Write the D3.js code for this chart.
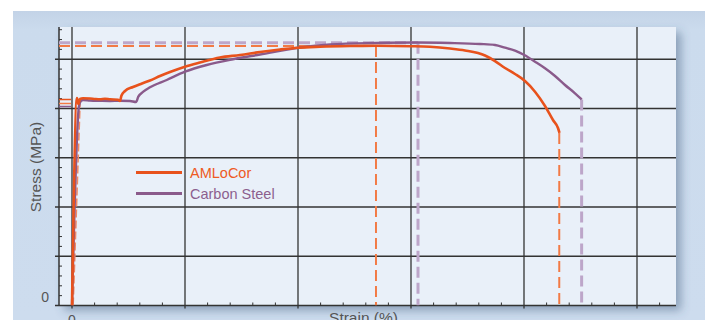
<!DOCTYPE html>
<html><head><meta charset="utf-8">
<script src="https://cdn.jsdelivr.net/npm/d3@7/dist/d3.min.js"></script>
<style>html,body{margin:0;padding:0;background:#fff;}svg{display:block;}</style>
</head><body>
<script>
// ---- data (strain %, stress MPa) ----
const seriesNames = ["AMLoCor", "Carbon Steel"];
const amlocorStrain = [0,0.221,0.279,0.354,0.487,0.796,1.018,1.239,1.46,1.681,2.035,2.124,2.19,2.345,2.699,3.097,3.451,3.894,4.336,5.0,5.664,6.549,7.434,8.319,9.204,10.0,10.973,12.301,13.451,15.0,15.841,16.726,17.389,18.274,18.717,19.159,19.602,20.044,20.487,20.929,21.283,21.504,21.571];
const amlocorStress = [0,421.3,409.1,419.3,420.7,420.3,419.3,418.7,419.8,418.7,417.9,415.2,426.4,435.5,443.7,450.8,456.9,466.0,474.1,484.9,493.4,503.6,508.6,514.7,519.8,523.5,525.5,526.9,527.3,526.5,525.3,521.8,517.8,507.6,496.4,482.2,470.1,455.8,434.1,405.1,376.6,360.4,350.3];
const steelStrain = [0,0.31,0.398,0.487,0.796,1.239,1.681,2.124,2.566,2.832,2.934,3.155,3.451,4.19,5.0,5.96,7.124,8.319,10.088,11.416,13.451,15.31,16.726,18.053,18.717,19.159,19.602,20.013,20.487,20.929,21.372,21.814,22.257,22.553];
const steelStress = [0,405.1,415.2,417.3,416.2,415.6,415.2,415.6,415.2,413.2,424.0,434.1,443.0,457.9,474.7,488.3,499.9,509.6,523.9,530.0,533.0,534.0,533.0,531.0,528.9,523.5,517.4,508.6,495.0,481.6,466.0,447.7,430.9,418.3];
// ultimate tensile points and fracture strains
const utsStrain = [13.45, 15.31];
const utsStress = [527, 533.6];
const fractureStrain = [21.56, 22.55];
const fractureStress = [350.3, 418.3];
// yield markers on the stress axis
const yieldStress = [418.3, 410.2, 404.1];
// offset (elastic) construction line
const offsetStrain = [0.05, 0.36];
const offsetStress = [0, 415];
const xTickLabels = ["0"];
const yTickLabels = ["0"];
const xLabel = "Strain (%)";
const yLabel = "Stress (MPa)";

// ---- layout ----
const W = 705, H = 320;
const L = 59, R = 676, T = 27, B = 305.5;
const orange = "#e8521c", purple = "#8a5a8b";
const orangeDash = "#f27a45", purpleDash = "#bda6c9";

const svg = d3.select("body").append("svg").attr("width", W).attr("height", H);
const defs = svg.append("defs");
const g1 = defs.append("linearGradient").attr("id","panel").attr("x1",0).attr("y1",0).attr("x2",0).attr("y2",1);
g1.append("stop").attr("offset","0").attr("stop-color","#c3d3e7");
g1.append("stop").attr("offset","0.06").attr("stop-color","#cbdbed");
g1.append("stop").attr("offset","1").attr("stop-color","#cddcee");
const f = defs.append("filter").attr("id","sh").attr("x","-10%").attr("y","-10%").attr("width","130%").attr("height","140%");
f.append("feDropShadow").attr("dx",5).attr("dy",5).attr("stdDeviation",5).attr("flood-color","#3c5678").attr("flood-opacity",0.45);
const clip = defs.append("clipPath").attr("id","clip");
clip.append("rect").attr("x",L).attr("y",T).attr("width",R-L).attr("height",B-T);

svg.append("rect").attr("x",13).attr("y",11).attr("width",W-13).attr("height",H-11).attr("fill","url(#panel)");
svg.append("rect").attr("x",L).attr("y",T).attr("width",R-L).attr("height",B-T)
  .attr("fill","#e9f0f9").attr("filter","url(#sh)");

const x = d3.scaleLinear().domain([(L-72)/22.6, (R-72)/22.6]).range([L, R]);
const y = d3.scaleLinear().domain([0, (B-T)/0.4925]).range([B, T]);

const grid = "#333";
const xMajor = d3.range(0, 26, 5);
const xMinor = d3.range(0, 27, 1).filter(v => v % 5 !== 0);
const yMajor = d3.range(0, 600, 100);
const yMinor = d3.range(0, 566, 20).filter(v => v % 100 !== 0);

svg.append("g").selectAll("line").data(xMajor).join("line")
  .attr("x1", d => x(d)).attr("x2", d => x(d)).attr("y1", T).attr("y2", B + 3)
  .attr("stroke", grid).attr("stroke-width", 1.3);
svg.append("g").selectAll("line").data(yMajor.filter(d => d > 0)).join("line")
  .attr("x1", L - 4).attr("x2", R).attr("y1", d => y(d)).attr("y2", d => y(d))
  .attr("stroke", grid).attr("stroke-width", 1.3);
svg.append("g").selectAll("line").data(xMinor).join("line")
  .attr("x1", d => x(d)).attr("x2", d => x(d)).attr("y1", B - 3).attr("y2", B)
  .attr("stroke", grid).attr("stroke-width", 1);
svg.append("g").selectAll("line").data(yMinor).join("line")
  .attr("x1", L).attr("x2", L + 3).attr("y1", d => y(d)).attr("y2", d => y(d))
  .attr("stroke", grid).attr("stroke-width", 1);
svg.append("line").attr("x1", L).attr("x2", L).attr("y1", T).attr("y2", B).attr("stroke", grid).attr("stroke-width", 1.5);
svg.append("line").attr("x1", L - 4).attr("x2", R).attr("y1", B).attr("y2", B).attr("stroke", grid).attr("stroke-width", 1.5);

const plot = svg.append("g").attr("clip-path", "url(#clip)");

const yColors = [orange, orangeDash, purple];
plot.selectAll("line.yld").data(yieldStress).join("line").attr("class","yld")
  .attr("x1", L).attr("x2", L + 12).attr("y1", d => y(d)).attr("y2", d => y(d))
  .attr("stroke", (d, i) => yColors[i]).attr("stroke-width", 1.4);

const dashCol = [orangeDash, purpleDash], dashW = [2, 3];
utsStress.forEach((s, i) => {
  plot.append("line").attr("x1", L).attr("x2", x(utsStrain[i])).attr("y1", y(s)).attr("y2", y(s))
    .attr("stroke", dashCol[i]).attr("stroke-width", dashW[i]).attr("stroke-dasharray", "11,5");
  plot.append("line").attr("x1", x(utsStrain[i])).attr("x2", x(utsStrain[i])).attr("y1", y(s)).attr("y2", B)
    .attr("stroke", dashCol[i]).attr("stroke-width", dashW[i]).attr("stroke-dasharray", "11,5");
  plot.append("line").attr("x1", x(fractureStrain[i])).attr("x2", x(fractureStrain[i])).attr("y1", y(fractureStress[i])).attr("y2", B)
    .attr("stroke", dashCol[i]).attr("stroke-width", dashW[i]).attr("stroke-dasharray", "11,5");
});

plot.append("line").attr("x1", x(offsetStrain[0])).attr("x2", x(offsetStrain[1]))
  .attr("y1", y(offsetStress[0])).attr("y2", y(offsetStress[1]))
  .attr("stroke", "#f08a66").attr("stroke-width", 1.6).attr("stroke-dasharray", "8,3");

const line = d3.line().x(d => x(d[0])).y(d => y(d[1])).curve(d3.curveMonotoneX);
const steel = steelStrain.map((v, i) => [v, steelStress[i]]);
const aml = amlocorStrain.map((v, i) => [v, amlocorStress[i]]);
plot.append("path").datum(steel).attr("d", line).attr("fill","none").attr("stroke", purple).attr("stroke-width", 2.4).attr("stroke-linejoin","round");
plot.append("path").datum(aml).attr("d", line).attr("fill","none").attr("stroke", orange).attr("stroke-width", 2.6).attr("stroke-linejoin","round");

const legColors = [orange, purple], legText = ["#ee5a24", "#8c5f8e"];
seriesNames.forEach((n, i) => {
  const yy = 172.5 + i * 21;
  svg.append("line").attr("x1", 136).attr("x2", 182).attr("y1", yy).attr("y2", yy)
    .attr("stroke", legColors[i]).attr("stroke-width", 3);
  svg.append("text").attr("x", 190).attr("y", yy + 5).text(n)
    .attr("fill", legText[i]).attr("font-family", "Liberation Sans, Arial, sans-serif").attr("font-size", 14.5);
});

const font = "Liberation Sans, Arial, sans-serif", tcol = "#555";
svg.append("text").attr("x", 49).attr("y", 302).attr("text-anchor","end").text(yTickLabels[0])
  .attr("fill", tcol).attr("font-family", font).attr("font-size", 14);
svg.append("text").attr("x", x(0)).attr("y", 325).attr("text-anchor","middle").text(xTickLabels[0])
  .attr("fill", tcol).attr("font-family", font).attr("font-size", 14);
svg.append("text").attr("x", (L + R) / 2 - 4).attr("y", 322.5).attr("text-anchor","middle").text(xLabel)
  .attr("fill", tcol).attr("font-family", font).attr("font-size", 15.5);
svg.append("text").attr("transform", "translate(41,167) rotate(-90)").attr("text-anchor","middle").text(yLabel)
  .attr("fill", tcol).attr("font-family", font).attr("font-size", 15.5);
</script>
</body></html>
